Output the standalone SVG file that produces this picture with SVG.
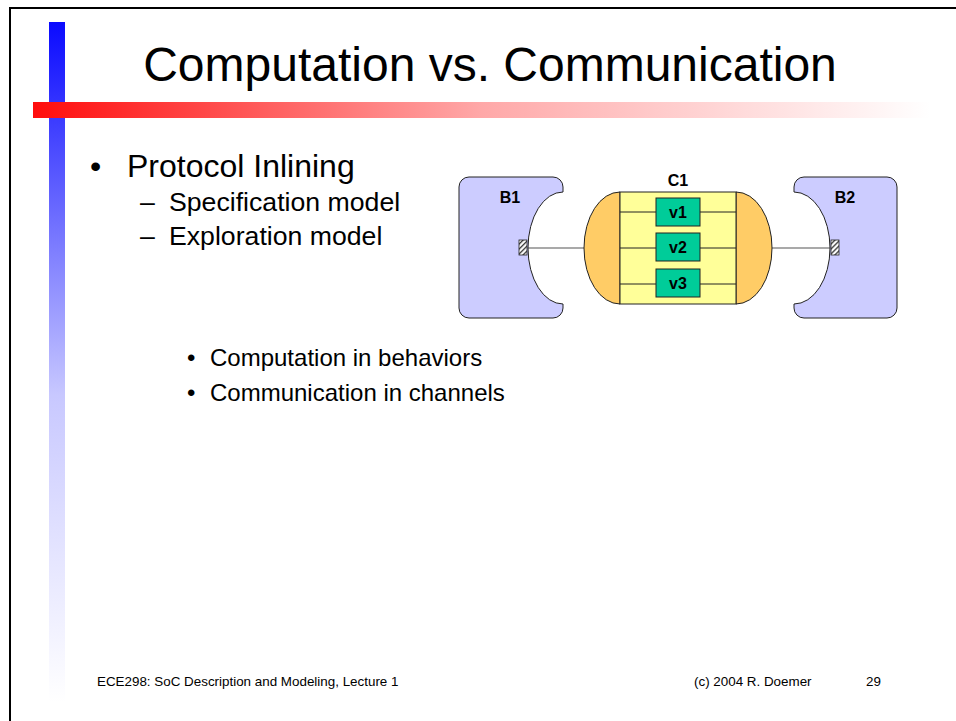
<svg xmlns="http://www.w3.org/2000/svg" width="956" height="721" viewBox="0 0 956 721">
<defs>
<linearGradient id="gBlue" x1="0" y1="0" x2="0" y2="1">
<stop offset="0" stop-color="#0a0aff"/>
<stop offset="0.55" stop-color="#c8c8ff"/>
<stop offset="1" stop-color="#ffffff"/>
</linearGradient>
<linearGradient id="gRed" x1="0" y1="0" x2="1" y2="0">
<stop offset="0" stop-color="#ff0d0d"/>
<stop offset="0.5" stop-color="#ffa8a8"/>
<stop offset="1" stop-color="#ffffff"/>
</linearGradient>
<pattern id="hatch" width="3.5" height="3.5" patternUnits="userSpaceOnUse" patternTransform="rotate(45)">
<rect width="3.5" height="3.5" fill="#ffffff"/>
<rect width="1.3" height="3.5" fill="#333333"/>
</pattern>
<style>
text{font-family:"Liberation Sans",Arial,sans-serif;fill:#000}
.lbl{font-weight:bold;font-size:16px;text-anchor:middle}
.beh{fill:#ccccff;stroke:#222;stroke-width:1}
.cap{fill:#ffcc66;stroke:#222;stroke-width:1}
.body{fill:#ffff99;stroke:#222;stroke-width:1}
.var{fill:#00cc99;stroke:#222;stroke-width:1}
.port{fill:url(#hatch);stroke:#222;stroke-width:0.8}
.wire{stroke:#555;stroke-width:1.2;fill:none}
.inner{stroke:#222;stroke-width:1;fill:none}
</style>
</defs>
<rect width="956" height="721" fill="#ffffff"/>
<path d="M10,721 V8 H956" fill="none" stroke="#000" stroke-width="2"/>
<rect x="49" y="22" width="16" height="680" fill="url(#gBlue)"/>
<rect x="33" y="102" width="897" height="16" fill="url(#gRed)"/>
<text x="490" y="81" font-size="48" text-anchor="middle">Computation vs. Communication</text>
<text x="90" y="177" font-size="32">•</text>
<text x="127" y="177" font-size="32">Protocol Inlining</text>
<text x="140" y="211" font-size="26.67">–</text>
<text x="169" y="211" font-size="26.67">Specification model</text>
<text x="140" y="245" font-size="26.67">–</text>
<text x="169" y="245" font-size="26.67">Exploration model</text>
<text x="187" y="366" font-size="24">•</text>
<text x="210" y="366" font-size="24">Computation in behaviors</text>
<text x="187" y="401" font-size="24">•</text>
<text x="210" y="401" font-size="24">Communication in channels</text>
<text x="97" y="686" font-size="13.4">ECE298: SoC Description and Modeling, Lecture 1</text>
<text x="694" y="686" font-size="13.4">(c) 2004 R. Doemer</text>
<text x="866" y="686" font-size="13.4">29</text>
<g id="connectors">
<line class="wire" x1="527" y1="248" x2="584" y2="248"/>
<line class="wire" x1="772" y1="248" x2="831" y2="248"/>
</g>
<g id="B1">
<path class="beh" d="M469,177 H553 A10,10 0 0 1 563,187 V192 A35,56 0 0 0 563,304 V308 A10,10 0 0 1 553,318 H469 A10,10 0 0 1 459,308 V187 A10,10 0 0 1 469,177 Z"/>
<rect class="port" x="519" y="240" width="8" height="15"/>
<text class="lbl" x="510" y="203">B1</text>
</g>
<g id="B2">
<path class="beh" d="M804,177 H887 A10,10 0 0 1 897,187 V308 A10,10 0 0 1 887,318 H804 A10,10 0 0 1 794,308 V304 A36,56 0 0 0 794,192 V187 A10,10 0 0 1 804,177 Z"/>
<rect class="port" x="831" y="240" width="8" height="15"/>
<text class="lbl" x="845" y="203">B2</text>
</g>
<g id="C1">
<path class="cap" d="M620,192 A36,56 0 0 0 620,304 Z"/>
<path class="cap" d="M736,192 A36,56 0 0 1 736,304 Z"/>
<rect class="body" x="620" y="192" width="116" height="112"/>
<line class="inner" x1="620" y1="212" x2="736" y2="212"/>
<line class="inner" x1="620" y1="248" x2="736" y2="248"/>
<line class="inner" x1="620" y1="284" x2="736" y2="284"/>
<text class="lbl" x="678" y="186">C1</text>
</g>
<g id="v1">
<rect class="var" x="656" y="198" width="44" height="28"/>
<text class="lbl" x="678" y="218">v1</text>
</g>
<g id="v2">
<rect class="var" x="656" y="233" width="44" height="28"/>
<text class="lbl" x="678" y="253">v2</text>
</g>
<g id="v3">
<rect class="var" x="656" y="269" width="44" height="28"/>
<text class="lbl" x="678" y="289">v3</text>
</g>
</svg>
